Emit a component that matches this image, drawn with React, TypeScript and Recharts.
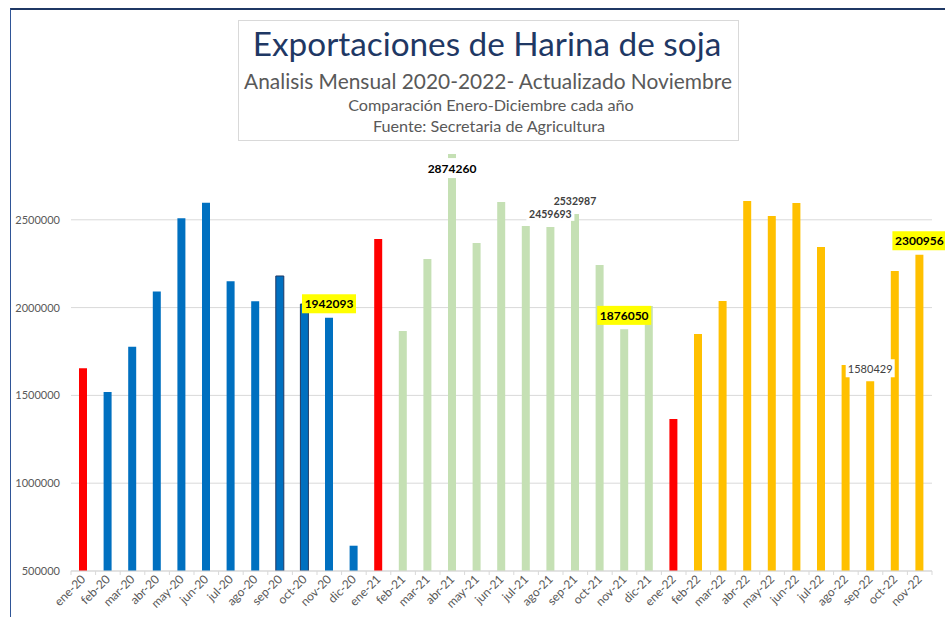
import React from "react";
import { BarChart, Bar, XAxis, YAxis, CartesianGrid, Cell, LabelList } from "recharts";

const categories = [
    "ene-20", "feb-20", "mar-20", "abr-20", "may-20", "jun-20", "jul-20", "ago-20", "sep-20", "oct-20", "nov-20", "dic-20",
    "ene-21", "feb-21", "mar-21", "abr-21", "may-21", "jun-21", "jul-21", "ago-21", "sep-21", "oct-21", "nov-21", "dic-21",
    "ene-22", "feb-22", "mar-22", "abr-22", "may-22", "jun-22", "jul-22", "ago-22", "sep-22", "oct-22", "nov-22",
];

const exports2020 = [1654000, 1519000, 1777000, 2091000, 2509000, 2597000, 2150000, 2036000, 2180000, 2020000, 1942093, 644000];
const exports2021 = [2391000, 1867000, 2277000, 2874260, 2368000, 2601000, 2465000, 2459693, 2532987, 2243000, 1876050, 2009000];
const exports2022 = [1366000, 1850000, 2038000, 2607000, 2522000, 2596000, 2345000, 1673000, 1580429, 2208000, 2300956];

const yTicks = [500000, 1000000, 1500000, 2000000, 2500000];
const Y_MIN = 500000;
const Y_MAX = 3000000;

// which bars carry a value label
const labelled = ["nov-20", "abr-21", "ago-21", "sep-21", "nov-21", "sep-22", "nov-22"];

const values = [...exports2020, ...exports2021, ...exports2022];
const data = categories.map((name, i) => ({
    name,
    value: values[i],
    label: labelled.includes(name) ? values[i] : undefined,
}));

const YEAR_COLORS: Record<string, string> = { "20": "#0070C0", "21": "#C5E0B4", "22": "#FFC000" };
const OUTLINED = ["sep-20", "oct-20"];

const FONT = "Lato, 'Open Sans', sans-serif";
const GRAY = "#595959";

const PLOT_LEFT = 71;
const PLOT_RIGHT = 932;
const BAND = (PLOT_RIGHT - PLOT_LEFT) / categories.length;

const labelStyle: Record<string, { bg: string; color: string; weight: number; size: number; dy: number; w: number; h: number }> = {
    "nov-20": { bg: "#FFFF00", color: "#000", weight: 700, size: 12, dy: -14, w: 54, h: 19 },
    "abr-21": { bg: "#FFFFFF", color: "#000", weight: 700, size: 12, dy: 14, w: 52, h: 20 },
    "ago-21": { bg: "#FFFFFF", color: "#404040", weight: 700, size: 10.5, dy: -13, w: 48, h: 14 },
    "sep-21": { bg: "#FFFFFF", color: "#404040", weight: 700, size: 10.5, dy: -13, w: 48, h: 14 },
    "nov-21": { bg: "#FFFF00", color: "#000", weight: 700, size: 12, dy: -14, w: 54, h: 19 },
    "sep-22": { bg: "#FFFFFF", color: "#404040", weight: 400, size: 11, dy: -13, w: 49, h: 18 },
    "nov-22": { bg: "#FFFF00", color: "#000", weight: 700, size: 12, dy: -14, w: 54, h: 19 },
};

function barColor(name: string) {
    if (name.startsWith("ene")) return "#FF0000";
    return YEAR_COLORS[name.slice(-2)];
}

function ValueLabel(props: any) {
    const { x, y, width, value } = props;
    if (value === undefined || value === null) return null;
    const idx = values.indexOf(value);
    const s = labelStyle[categories[idx]];
    if (!s) return null;
    const cx = x + width / 2;
    const cy = y + s.dy;
    return (
        <g>
            <rect x={cx - s.w / 2} y={cy - s.h / 2} width={s.w} height={s.h} fill={s.bg} />
            <text
                x={cx}
                y={cy}
                textAnchor="middle"
                dominantBaseline="central"
                fontFamily={FONT}
                fontSize={s.size}
                fontWeight={s.weight}
                fill={s.color}
            >
                {value}
            </text>
        </g>
    );
}

function XTick(props: any) {
    const { x, y, payload, index } = props;
    const tx = x + 3;
    const ty = y + 9;
    return (
        <g>
            <line x1={x - BAND / 2} x2={x - BAND / 2} y1={y} y2={y + 4} stroke="#D9D9D9" />
            {index === categories.length - 1 && (
                <line x1={x + BAND / 2} x2={x + BAND / 2} y1={y} y2={y + 4} stroke="#D9D9D9" />
            )}
            <text
                x={tx}
                y={ty}
                textAnchor="end"
                transform={`rotate(-45, ${tx}, ${ty})`}
                fontFamily={FONT}
                fontSize={12}
                fill={GRAY}
            >
                {payload.value}
            </text>
        </g>
    );
}

// grid only at the labelled ticks (no line at the top of the plot)
function gridRows({ offset }: any) {
    return yTicks.map((t) => offset.top + (offset.height * (Y_MAX - t)) / (Y_MAX - Y_MIN));
}

export default function App() {
    return (
        <div style={{ position: "fixed", left: 0, top: 0, width: 945, height: 617, background: "#fff", overflow: "hidden" }}>
            <div
                style={{
                    position: "absolute",
                    left: 10,
                    top: 8,
                    width: 940,
                    height: 620,
                    borderTop: "2px solid #1F3864",
                    borderLeft: "1px solid #2F5597",
                }}
            />
            <BarChart
                width={945}
                height={617}
                data={data}
                margin={{ top: 132, right: 945 - PLOT_RIGHT, bottom: 0, left: 0 }}
                style={{ position: "absolute", left: 0, top: 0 }}
            >
                <CartesianGrid vertical={false} stroke="#D9D9D9" horizontalCoordinatesGenerator={gridRows} />
                <XAxis
                    dataKey="name"
                    interval={0}
                    height={46}
                    stroke="#D9D9D9"
                    tickLine={false}
                    tickSize={0}
                    tickMargin={0}
                    tick={<XTick />}
                />
                <YAxis
                    width={PLOT_LEFT}
                    domain={[Y_MIN, Y_MAX]}
                    ticks={yTicks}
                    allowDataOverflow
                    axisLine={false}
                    tickLine={false}
                    tickSize={6}
                    tickMargin={5}
                    tick={{ fontFamily: FONT, fontSize: 11, fill: GRAY }}
                />
                <Bar dataKey="value" barSize={8} isAnimationActive={false}>
                    {data.map((d) => (
                        <Cell
                            key={d.name}
                            fill={barColor(d.name)}
                            stroke={OUTLINED.includes(d.name) ? "#1F3864" : "none"}
                            strokeWidth={1}
                        />
                    ))}
                    <LabelList dataKey="label" content={<ValueLabel />} />
                </Bar>
            </BarChart>
            <div
                style={{
                    position: "absolute",
                    left: 238,
                    top: 20,
                    width: 499,
                    height: 119,
                    border: "1px solid #D9D9D9",
                    background: "#fff",
                }}
            />
            <svg width={945} height={150} style={{ position: "absolute", left: 0, top: 0 }}>
                <text x={487} y={56} textAnchor="middle" fontFamily={FONT} fontSize={33.3} fill="#1F3864">
                    Exportaciones de Harina de soja
                </text>
                <text x={488} y={89} textAnchor="middle" fontFamily={FONT} fontSize={20.9} fill={GRAY}>
                    Analisis Mensual 2020-2022- Actualizado Noviembre
                </text>
                <text x={491} y={111} textAnchor="middle" fontFamily={FONT} fontSize={16.2} fill={GRAY}>
                    Comparación Enero-Diciembre cada año
                </text>
                <text x={489} y={132} textAnchor="middle" fontFamily={FONT} fontSize={16.2} fill={GRAY}>
                    Fuente: Secretaria de Agricultura
                </text>
            </svg>
        </div>
    );
}
